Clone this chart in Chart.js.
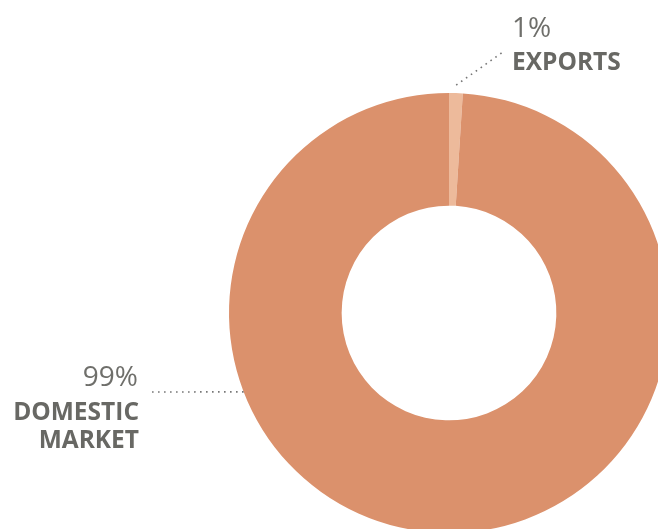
<!DOCTYPE html>
<html>
<head>
<meta charset="utf-8">
<script src="https://cdn.jsdelivr.net/npm/chart.js@4.4.1/dist/chart.umd.min.js"></script>
<style>
  html, body { margin:0; padding:0; background:#fff; overflow:hidden; width:658px; height:529px; }
  #wrap { position:absolute; left:0; top:0; width:900px; height:626px; }
  .lbl { position:absolute; font-family:"Open Sans", sans-serif; color:#686864; white-space:nowrap; }
  .pct { font-size:28px; line-height:28px; font-weight:400; color:#6f6f6b; }
  .name { font-size:24.5px; line-height:25px; font-weight:700; }
  .r { text-align:right; }
</style>
</head>
<body>
<div id="wrap"><canvas id="donut"></canvas></div>
<div class="lbl pct" style="left:512px; top:12px;">1%</div>
<div class="lbl name" style="left:512px; top:48px;">EXPORTS</div>
<div class="lbl pct r" style="right:520px; top:361px;">99%</div>
<div class="lbl name r" style="right:519px; top:398px;">DOMESTIC</div>
<div class="lbl name r" style="right:519px; top:426px;">MARKET</div>
<script>
const categories = ['Exports', 'Domestic market'];
const shares = [1, 99];
const colours = ['#EDBA9B', '#DB916C'];

// dotted leader lines: [slice index, angle along the ring (deg from top), end x, end y]
const leaders = [
  {slice:0, angle:1.8, gap:8, toX:503, toY:52},
  {slice:1, angle:249, gap:0, toX:151, toY:392}
];

const leaderPlugin = {
  id:'leaders',
  afterDraw(chart){
    const ctx = chart.ctx;
    const arcs = chart.getDatasetMeta(0).data;
    ctx.save();
    ctx.strokeStyle = '#777';
    ctx.lineWidth = 1.6;
    ctx.setLineDash([1.6, 4.4]);
    leaders.forEach(l=>{
      const a = arcs[l.slice];
      const rad = (l.angle - 90) * Math.PI / 180;
      const r = a.outerRadius + l.gap;
      ctx.beginPath();
      ctx.moveTo(a.x + r*Math.cos(rad), a.y + r*Math.sin(rad));
      ctx.lineTo(l.toX, l.toY);
      ctx.stroke();
    });
    ctx.restore();
  }
};

new Chart(document.getElementById('donut'), {
  type:'doughnut',
  data:{
    labels:categories,
    datasets:[{data:shares, backgroundColor:colours, borderWidth:0}]
  },
  options:{
    responsive:true,
    maintainAspectRatio:false,
    animation:false,
    cutout:'48.8%',
    layout:{padding:{left:229, right:231, top:93, bottom:93}},
    plugins:{legend:{display:false}, tooltip:{enabled:false}}
  },
  plugins:[leaderPlugin]
});
</script>
</body>
</html>
